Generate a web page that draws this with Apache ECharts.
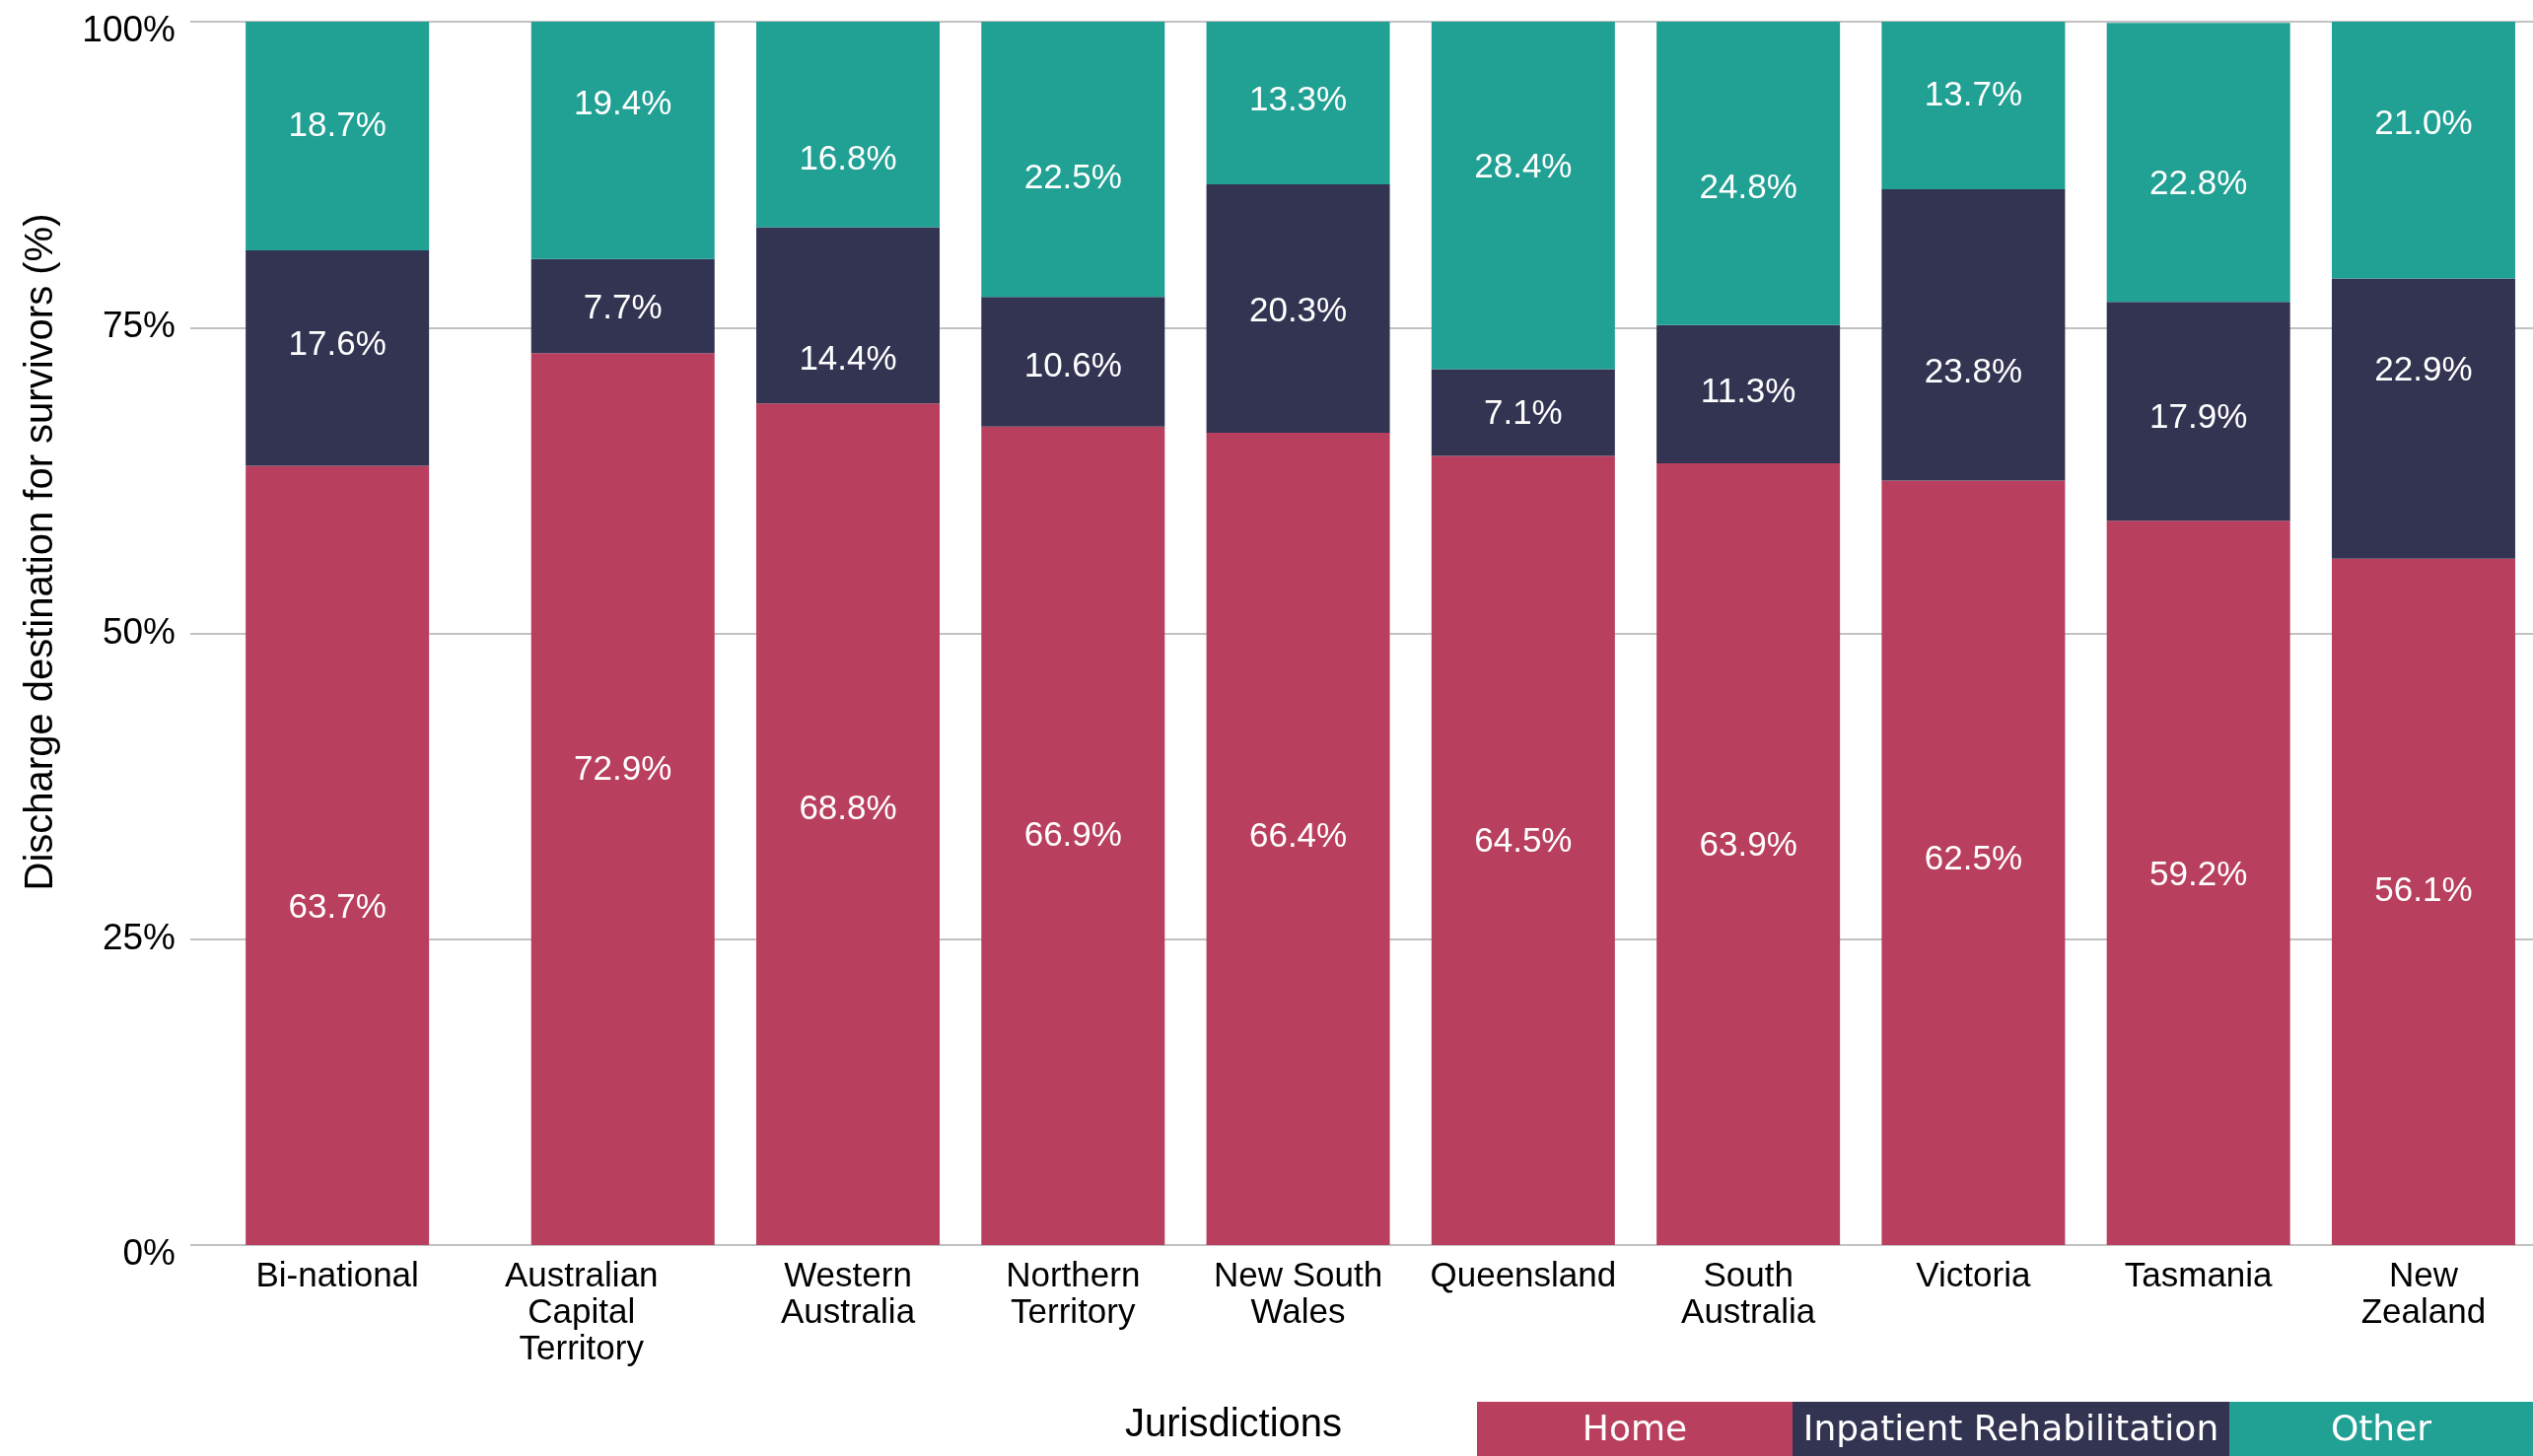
<!DOCTYPE html>
<html>
<head>
<meta charset="utf-8">
<style>
  html, body { margin: 0; padding: 0; background: #ffffff; }
  #chart { width: 2569px; height: 1477px; }
</style>
<script src="https://cdn.jsdelivr.net/npm/echarts@6/dist/echarts.min.js"></script>
</head>
<body>
<div id="chart"></div>
<script>
// ---- Data ----
const categories = ['Bi-national', 'Australian\nCapital\nTerritory', 'Western\nAustralia', 'Northern\nTerritory', 'New South\nWales', 'Queensland', 'South\nAustralia', 'Victoria', 'Tasmania', 'New\nZealand'];
const homeValues = [63.7, 72.9, 68.8, 66.9, 66.4, 64.5, 63.9, 62.5, 59.2, 56.1];
const rehabValues = [17.6, 7.7, 14.4, 10.6, 20.3, 7.1, 11.3, 23.8, 17.9, 22.9];
const otherValues = [18.7, 19.4, 16.8, 22.5, 13.3, 28.4, 24.8, 13.7, 22.8, 21.0];
const seriesNames = ['Home', 'Inpatient Rehabilitation', 'Other'];
const seriesColors = ['#B93F5E', '#323452', '#21A094'];
const yAxisTitle = 'Discharge destination for survivors (%)';
const xAxisTitle = 'Jurisdictions';

// ---- Styling: nudges (px) of labels, as placed in the original ----
const homeLabelShift  = [54, -29, -15, 0, -2, -8, -8, -3, -7, -11];
const rehabLabelShift = [-13, 3, 46, 5, 3, 2, -2, 39, 7, -48];
const otherLabelShift = [-10, -36, 36, 20, -2, -28, 15, -10, 23, -26];
const categoryLabelShiftX = [0, -42, 0, 0, 0, 0, 0, 0, 0, 0];

// ---- Chart ----
const chart = echarts.init(document.getElementById('chart'), null, { renderer: 'canvas' });
const FONT = "'Liberation Sans', Arial, Helvetica, sans-serif";

const valueSets = [homeValues, rehabValues, otherValues];
const shiftSets = [homeLabelShift, rehabLabelShift, otherLabelShift];

// two bar groups: the bi-national total (grid 1) and the jurisdictions (grid 2)
const groups = [
  { axis: 1, from: 0, to: 1, stack: 'national' },
  { axis: 2, from: 1, to: categories.length, stack: 'jurisdictions' }
];

const series = [];
groups.forEach(g => {
  seriesNames.forEach((name, i) => {
    series.push({
      name: name,
      type: 'bar',
      stack: g.stack,
      xAxisIndex: g.axis,
      yAxisIndex: g.axis,
      barWidth: 186,
      data: valueSets[i].slice(g.from, g.to).map((v, j) => ({
        value: v,
        label: { offset: [0, shiftSets[i][g.from + j]] }
      })),
      itemStyle: { color: seriesColors[i] },
      label: {
        show: true,
        position: 'inside',
        color: '#ffffff',
        fontFamily: FONT,
        fontSize: 35,
        formatter: p => p.value.toFixed(1) + '%'
      }
    });
  });
});

// legend drawn as coloured boxes with text inside
const legendWidths = [320, 443, 308];
const legendGraphics = [];
let lx = 1498;
seriesNames.forEach((name, i) => {
  legendGraphics.push({
    type: 'rect',
    left: lx, top: 1422,
    shape: { width: legendWidths[i], height: 55 },
    style: { fill: seriesColors[i] }
  });
  legendGraphics.push({
    type: 'text',
    x: lx + legendWidths[i] / 2, y: 1452,
    style: {
      text: name, fill: '#ffffff', font: "36px 'DejaVu Sans', sans-serif",
      textAlign: 'center', textVerticalAlign: 'middle'
    }
  });
  lx += legendWidths[i];
});

const catAxis = (gridIndex, from, to) => ({
  type: 'category', gridIndex: gridIndex,
  data: categories.slice(from, to).map((c, j) => {
    const dx = categoryLabelShiftX[from + j];
    return dx ? { value: c, textStyle: { padding: [0, -2 * dx, 0, 0] } } : c;
  }),
  axisLine: { show: false }, axisTick: { show: false },
  axisLabel: {
    color: '#000000', fontFamily: FONT, fontSize: 35, lineHeight: 37,
    margin: 14, interval: 0
  }
});

const option = {
  backgroundColor: '#ffffff',
  animation: false,
  grid: [
    { left: 193, width: 2376, top: 22, bottom: 214, containLabel: false, outerBoundsMode: 'none' },
    { left: 228, width: 228.3, top: 22, bottom: 214, containLabel: false, outerBoundsMode: 'none' },
    { left: 517.6, width: 2054.5, top: 22, bottom: 214, containLabel: false, outerBoundsMode: 'none' }
  ],
  xAxis: [
    { type: 'value', gridIndex: 0, show: false, min: 0, max: 1 },
    catAxis(1, 0, 1),
    catAxis(2, 1, categories.length)
  ],
  yAxis: [
    {
      type: 'value', gridIndex: 0, min: 0, max: 100, interval: 25,
      axisLine: { show: false }, axisTick: { show: false },
      axisLabel: {
        color: '#000000', fontFamily: FONT, fontSize: 37, margin: 15,
        formatter: v => (v === 0 || v === 100) ? '{edge|' + v + '%}' : v + '%',
        rich: { edge: { fontFamily: FONT, fontSize: 37, color: '#000000', padding: [20, 0, 0, 0] } }
      },
      splitLine: { show: true, lineStyle: { color: '#c2c2c2', width: 2 } }
    },
    { type: 'value', gridIndex: 1, min: 0, max: 100, show: false, splitLine: { show: false } },
    { type: 'value', gridIndex: 2, min: 0, max: 100, show: false, splitLine: { show: false } }
  ],
  series: series,
  graphic: [
    {
      type: 'text', x: 42, y: 560, rotation: Math.PI / 2,
      style: { text: yAxisTitle, fill: '#000000', font: "40px 'Liberation Sans', Arial, sans-serif", textAlign: 'center', textVerticalAlign: 'middle' }
    },
    {
      type: 'text', x: 1141, y: 1446,
      style: { text: xAxisTitle, fill: '#000000', font: "40px 'Liberation Sans', Arial, sans-serif", textAlign: 'left', textVerticalAlign: 'middle' }
    }
  ].concat(legendGraphics)
};
chart.setOption(option);
</script>
</body>
</html>
